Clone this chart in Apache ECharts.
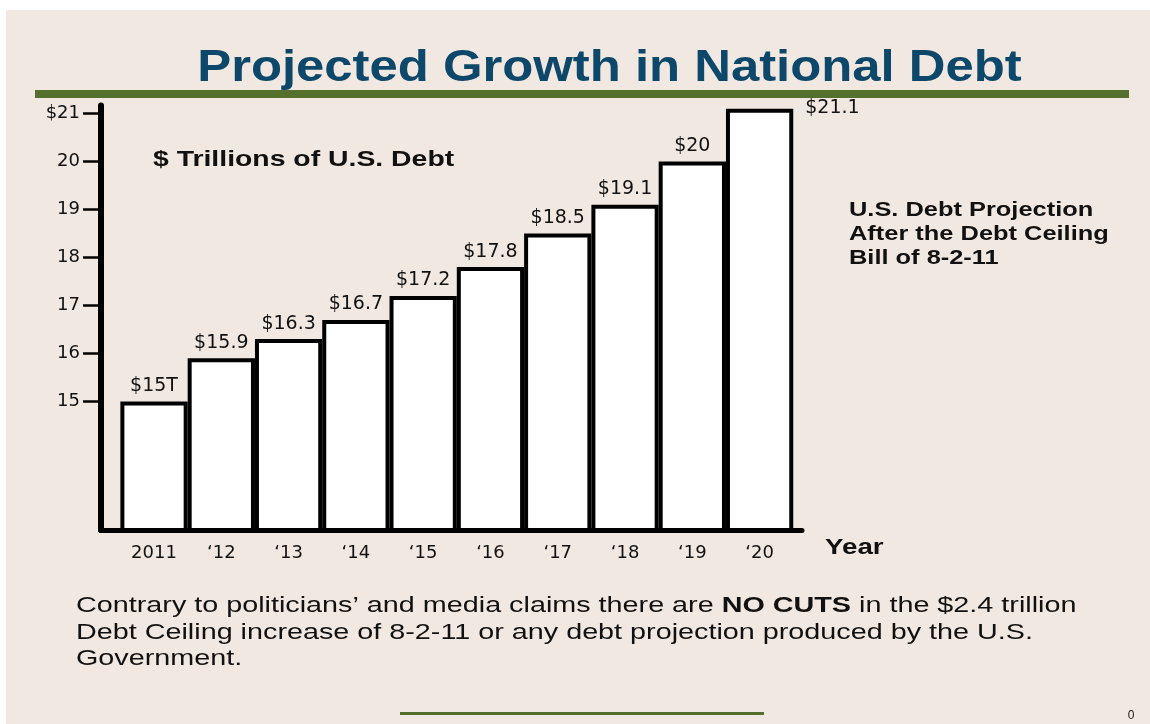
<!DOCTYPE html>
<html>
<head>
<meta charset="utf-8">
<script src="https://cdn.jsdelivr.net/npm/echarts@6/dist/echarts.min.js"></script>
<style>
  html, body { margin: 0; padding: 0; background: #ffffff; }
  #chart {
    width: 1150px; height: 724px;
    background: linear-gradient(#f1e8e2, #f1e8e2) 6px 10px / 1144px 714px no-repeat, #ffffff;
  }
</style>
</head>
<body>
<div id="chart"></div>
<script>
// Years along the bottom and projected U.S. debt in trillions of dollars
const years = ['2011', '\u201812', '\u201813', '\u201814', '\u201815', '\u201816', '\u201817', '\u201818', '\u201819', '\u201820'];
const debtTrillions = [15, 15.9, 16.3, 16.7, 17.2, 17.8, 18.5, 19.1, 20, 21.1];

// Left axis ticks and their labels
const yTickValues = [15, 16, 17, 18, 19, 20, 21];
const yTickLabels = ['15', '16', '17', '18', '19', '20', '$21'];

const titleText = 'Projected Growth in National Debt';
const unitText = '$ Trillions of U.S. Debt';
const xAxisTitle = 'Year';
const noteText = 'U.S. Debt Projection\nAfter the Debt Ceiling\nBill of 8-2-11';
const footText = 'Contrary to politicians\u2019 and media claims there are {b|NO CUTS} in the $2.4 trillion\n' +
  'Debt Ceiling increase of 8-2-11 or any debt projection produced by the U.S.\n' +
  'Government.';
const pageNumber = '0';

const SANS = '"Liberation Sans", Arial, sans-serif';
const NUM = '"DejaVu Sans", sans-serif';

const chart = echarts.init(document.getElementById('chart'), null, { renderer: 'canvas' });

const barData = debtTrillions.map((v, i) => {
  const item = { value: [i, v] };
  if (i === debtTrillions.length - 1) {
    // the tallest bar carries its label beside its top edge
    item.label = { position: ['100%', 0], align: 'left', verticalAlign: 'middle', offset: [12, -1] };
  }
  return item;
});

chart.setOption({
  backgroundColor: 'transparent',
  animation: false,
  grid: { left: 101, top: 105.5, width: 701, height: 424.5, containLabel: false },
  xAxis: {
    type: 'value',
    min: -0.788,
    max: 9.63,
    axisLine: { onZero: false, lineStyle: { color: '#000', width: 5 } },
    axisTick: { show: false },
    splitLine: { show: false },
    axisLabel: {
      customValues: years.map((_, i) => i),
      formatter: v => years[v],
      margin: 14,
      fontFamily: NUM, fontSize: 18, color: '#111'
    }
  },
  yAxis: {
    type: 'value',
    min: 12.323,
    max: 21.167,
    axisLine: { show: true, onZero: false, lineStyle: { color: '#000', width: 6 } },
    axisTick: { show: true, customValues: yTickValues, length: 18, lineStyle: { color: '#000', width: 2.5 } },
    splitLine: { show: false },
    axisLabel: {
      customValues: yTickValues,
      formatter: v => yTickLabels[yTickValues.indexOf(v)],
      margin: 21,
      fontFamily: NUM, fontSize: 18, color: '#111'
    }
  },
  series: [{
    type: 'bar',
    data: barData,
    barWidth: 67.28,
    clip: true,
    itemStyle: { color: '#ffffff', borderColor: '#000', borderWidth: 4 },
    label: {
      show: true,
      position: 'top',
      distance: 6,
      fontFamily: NUM, fontSize: 19, color: '#111',
      formatter: p => (p.dataIndex === 0 ? '$' + p.value[1] + 'T' : '$' + p.value[1])
    },
    emphasis: { disabled: true }
  }],
  graphic: [
    { type: 'rect', shape: { x: 35, y: 90, width: 1094, height: 8 }, style: { fill: '#556f2c' }, silent: true },
    { type: 'rect', shape: { x: 400, y: 712, width: 364, height: 3 }, style: { fill: '#556f2c' }, silent: true },
    {
      type: 'text', x: 609.5, y: 69, scaleX: 1.155, silent: true,
      style: { text: titleText, x: 0, y: 0, align: 'center', verticalAlign: 'middle', fill: '#0d486a', font: 'bold 44px ' + SANS }
    },
    {
      type: 'text', x: 153, y: 160, scaleX: 1.29, silent: true,
      style: { text: unitText, x: 0, y: 0, align: 'left', verticalAlign: 'middle', fill: '#111', font: 'bold 22px ' + SANS }
    },
    {
      type: 'text', x: 825, y: 547.5, scaleX: 1.26, silent: true,
      style: { text: xAxisTitle, x: 0, y: 0, align: 'left', verticalAlign: 'middle', fill: '#111', font: 'bold 22px ' + SANS }
    },
    {
      type: 'text', x: 849, y: 234.5, scaleX: 1.21, silent: true,
      style: { text: noteText, x: 0, y: 0, align: 'left', verticalAlign: 'middle', lineHeight: 24, fill: '#111', font: 'bold 21px ' + SANS }
    },
    {
      type: 'text', x: 76, y: 632.5, scaleX: 1.307, silent: true,
      style: {
        text: footText, x: 0, y: 0, align: 'left', verticalAlign: 'middle',
        fill: '#111', fontFamily: SANS, fontSize: 22, lineHeight: 26.7,
        rich: { b: { fontFamily: SANS, fontSize: 22, fontWeight: 'bold', lineHeight: 26.7, fill: '#111' } }
      }
    },
    {
      type: 'text', x: 1131, y: 716, silent: true,
      style: { text: pageNumber, x: 0, y: 0, align: 'center', verticalAlign: 'middle', fill: '#222', font: '12px ' + SANS }
    }
  ]
});
</script>
</body>
</html>
